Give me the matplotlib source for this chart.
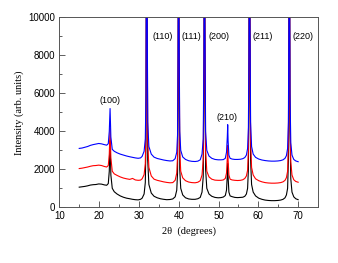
import matplotlib
matplotlib.use("Agg")
import matplotlib.pyplot as plt
from matplotlib.ticker import MultipleLocator

# Shared 2-theta sampling (degrees)
two_theta = [15.0, 15.7, 16.4, 17.1, 17.8, 18.5, 19.2, 19.9, 20.6, 21.3, 21.9, 22.3, 22.55, 22.75, 22.95,
             23.3, 23.8, 24.5, 25.3, 26.1, 26.9, 27.7, 28.4, 29.1, 29.8, 30.4, 30.8,
             31.3, 31.6, 31.78, 31.9, 32.02, 32.2, 32.5, 33.1, 33.8, 34.6, 35.4, 36.2, 37.0, 37.8, 38.5,
             39.1, 39.5, 39.7, 39.83, 39.95, 40.07, 40.25, 40.5, 41.0, 41.7, 42.5, 43.3, 44.1, 44.8,
             45.4, 45.85, 46.15, 46.33, 46.45, 46.57, 46.75, 47.05, 47.6, 48.3, 49.1, 49.9, 50.6, 51.2,
             51.7, 52.0, 52.2, 52.3, 52.4, 52.6, 52.9, 53.4, 54.1, 54.8, 55.5, 56.1, 56.6, 57.0,
             57.3, 57.5, 57.63, 57.75, 57.87, 58.05, 58.3, 58.7, 59.3, 60.1, 60.9, 61.7, 62.5, 63.3,
             64.1, 64.9, 65.6, 66.2, 66.7, 67.05, 67.35, 67.55, 67.65, 67.75, 67.85, 67.95, 68.15,
             68.45, 68.9, 69.4, 70.0]

black_y = [1060, 1080, 1100, 1130, 1170, 1190, 1200, 1230, 1220, 1180, 1160, 1250, 1900, 3500, 1700,
           1000, 820, 700, 600, 530, 480, 450, 420, 400, 390, 420, 480,
           700, 1300, 3500, 16000, 14000, 2500, 1200, 750, 580, 500, 450, 420, 400, 410, 440,
           550, 900, 1800, 6000, 15000, 9000, 2000, 1000, 650, 500, 440, 420, 420, 450,
           520, 800, 1600, 6000, 15000, 9000, 2000, 1000, 700, 580, 520, 500, 510, 540,
           620, 900, 1700, 2300, 1600, 800, 600, 560, 520, 510, 520, 530, 580, 700,
           1000, 2000, 6000, 16000, 10000, 2500, 1200, 800, 600, 480, 420, 380, 360, 350,
           350, 360, 380, 420, 500, 650, 1000, 2500, 7000, 15000, 12000, 4000, 1500,
           800, 550, 450, 400]

red_y = [2040, 2060, 2090, 2120, 2160, 2190, 2200, 2220, 2200, 2150, 2120, 2200, 2800, 4150, 2600,
         1900, 1760, 1680, 1600, 1540, 1500, 1470, 1520, 1440, 1420, 1430, 1500,
         1720, 2300, 4500, 16000, 15000, 3500, 2100, 1650, 1480, 1420, 1380, 1340, 1310, 1290, 1300,
         1420, 1800, 2700, 7000, 16000, 10000, 3000, 1900, 1550, 1400, 1330, 1300, 1290, 1320,
         1400, 1700, 2500, 7000, 16000, 10000, 3000, 1900, 1600, 1480, 1430, 1420, 1420, 1440,
         1520, 1800, 2600, 3250, 2500, 1700, 1480, 1440, 1420, 1410, 1420, 1450, 1520, 1650,
         1950, 3000, 7000, 16000, 11000, 3500, 2100, 1700, 1500, 1400, 1340, 1300, 1280, 1270,
         1270, 1280, 1300, 1340, 1420, 1560, 1900, 3400, 8000, 16000, 13000, 5000, 2400,
         1700, 1450, 1360, 1320]

blue_y = [3100, 3120, 3160, 3200, 3260, 3300, 3330, 3360, 3340, 3300, 3270, 3350, 4000, 5200, 3700,
          3050, 2950, 2870, 2800, 2750, 2700, 2660, 2630, 2600, 2580, 2600, 2680,
          2950, 3600, 6000, 16000, 14000, 4500, 3200, 2800, 2640, 2570, 2530, 2490, 2460, 2440, 2450,
          2560, 2900, 3800, 8000, 16000, 10000, 4000, 3000, 2650, 2520, 2450, 2420, 2410, 2430,
          2500, 2800, 3600, 8000, 16000, 10000, 4000, 3000, 2700, 2580, 2520, 2500, 2500, 2510,
          2580, 2900, 3700, 4350, 3500, 2750, 2580, 2540, 2520, 2520, 2530, 2560, 2620, 2750,
          3100, 4200, 8000, 16000, 11000, 4500, 3200, 2800, 2630, 2540, 2490, 2460, 2440, 2430,
          2430, 2440, 2460, 2500, 2580, 2720, 3100, 4500, 9000, 16000, 13000, 6000, 3400,
          2750, 2520, 2440, 2400]

peak_labels = ["(100)", "(110)", "(111)", "(200)", "(210)", "(211)", "(220)"]
label_x = [22.7, 35.9, 43.2, 50.0, 52.2, 61.2, 71.2]
label_y = [5600, 9000, 9000, 9000, 4750, 9000, 9000]

fig = plt.figure(figsize=(3.38, 2.63), dpi=100)
ax = fig.add_axes([0.1755, 0.2118, 0.7655, 0.7222])

ax.plot(two_theta, black_y, color="black", lw=0.8)
ax.plot(two_theta, red_y, color="#ff0000", lw=0.8)
ax.plot(two_theta, blue_y, color="#0000ff", lw=0.8)

for t, x, y in zip(peak_labels, label_x, label_y):
    ax.text(x, y, t, ha="center", va="center", fontsize=6.5, family="Liberation Sans")

ax.set_xlim(10, 75)
ax.set_ylim(0, 10000)
ax.xaxis.set_major_locator(MultipleLocator(10))
ax.xaxis.set_minor_locator(MultipleLocator(5))
ax.yaxis.set_major_locator(MultipleLocator(2000))
ax.yaxis.set_minor_locator(MultipleLocator(1000))
ax.tick_params(which="both", direction="in", top=False, right=False, width=0.6, color="#444444")
ax.tick_params(which="major", length=4, labelsize=7, pad=3)
ax.tick_params(which="minor", length=2)
for lab in ax.get_xticklabels() + ax.get_yticklabels():
    lab.set_family("Liberation Sans")
for s in ax.spines.values():
    s.set_color("#555555")
    s.set_linewidth(0.7)

ax.set_xlabel("2θ  (degrees)", family="Liberation Serif", fontsize=7.5, labelpad=3.5)
ax.set_ylabel("Intensity (arb. units)", family="Liberation Serif", fontsize=7.5, labelpad=3)

fig.savefig("out.png", dpi=100)
